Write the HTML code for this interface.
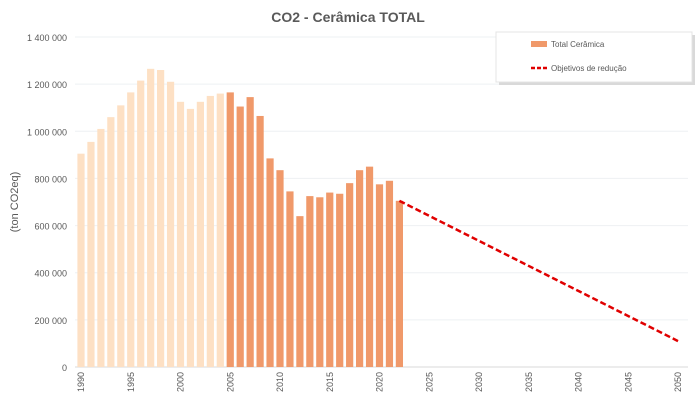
<!DOCTYPE html>
<html><head><meta charset="utf-8"><style>
body{margin:0;background:#fff;font-family:"Liberation Sans",sans-serif;}
svg text{font-family:"Liberation Sans",sans-serif;}
</style></head><body>
<svg id="chart" width="696" height="406" xmlns="http://www.w3.org/2000/svg">
<text x="348" y="22" text-anchor="middle" font-size="14" font-weight="bold" fill="#595959">CO2 - Cerâmica TOTAL</text>
<text transform="translate(18,202) rotate(-90)" text-anchor="middle" font-size="11" fill="#595959">(ton CO2eq)</text>
<g id="grid"></g><g id="bars"></g><g id="line"></g><g id="xt"></g>
<g>
<rect x="499" y="35" width="196" height="50" fill="#d9d9d9"/>
<rect x="496" y="32" width="196" height="50" fill="#fff" stroke="#e4e4e4"/>
<rect x="531" y="41" width="16" height="6" fill="#f0996a"/>
<text x="551" y="47" font-size="8" fill="#595959">Total Cerâmica</text>
<line x1="531" y1="68" x2="547" y2="68" stroke="#e00000" stroke-width="2.5" stroke-dasharray="4,2"/>
<text x="551" y="71" font-size="8" fill="#595959">Objetivos de redução</text>
</g>
</svg>
<script>
const years=[];for(let y=1990;y<=2050;y++)years.push(y);
const histYears=[1990,1991,1992,1993,1994,1995,1996,1997,1998,1999,2000,2001,2002,2003,2004,2005,2006,2007,2008,2009,2010,2011,2012,2013,2014,2015,2016,2017,2018,2019,2020,2021,2022];
const histValues=[905000,955000,1010000,1060000,1110000,1165000,1215000,1265000,1260000,1210000,1125000,1095000,1125000,1150000,1160000,1165000,1105000,1145000,1065000,885000,835000,745000,640000,725000,720000,740000,735000,780000,835000,850000,775000,790000,705000];
const targetYears=[2022,2050];
const targetValues=[705000,110000];
const yTicks=[0,200000,400000,600000,800000,1000000,1200000,1400000];
const yTickLabels=["0","200 000","400 000","600 000","800 000","1 000 000","1 200 000","1 400 000"];
const xTickYears=[1990,1995,2000,2005,2010,2015,2020,2025,2030,2035,2040,2045,2050];
const NS="http://www.w3.org/2000/svg";
const x0=81,x1=678,yb=367,yt=37;
const X=y=>x0+(y-1990)*(x1-x0)/60;
const Y=v=>yb-v*(yb-yt)/1400000;
function mk(tag,attrs,parent){const e=document.createElementNS(NS,tag);for(const k in attrs)e.setAttribute(k,attrs[k]);parent.appendChild(e);return e;}
const grid=document.getElementById('grid');
yTicks.forEach((t,i)=>{
 const l=mk('line',{x1:75,x2:688,y1:Y(t),y2:Y(t),stroke:i==0?'#d9d9d9':'#eef0f3','stroke-width':1},grid);
 
 
 const tx=mk('text',{x:67,y:Y(t)+4,'text-anchor':'end','font-size':9,fill:'#595959'},grid);
 tx.textContent=yTickLabels[i];
 
 
});
const bars=document.getElementById('bars');
histYears.forEach((yr,i)=>{
 const r=mk('rect',{x:X(yr)-3.6,y:Y(histValues[i]),width:7.2,height:yb-Y(histValues[i]),fill:yr<2005?'#fde0c4':'#f0996a'},bars);
 
 
});
const ln=mk('line',{x1:X(targetYears[0]),y1:Y(targetValues[0]),x2:X(targetYears[1]),y2:Y(targetValues[1]),stroke:'#e00000','stroke-width':2.5,'stroke-dasharray':'6,3'},document.getElementById('line'));


const xt=document.getElementById('xt');
xTickYears.forEach(yr=>{
 const t=mk('text',{transform:`translate(${X(yr)+3},372) rotate(-90)`,'text-anchor':'end','font-size':9,fill:'#595959'},xt);
 t.textContent=yr;
 
 
});
</script>
</body></html>
